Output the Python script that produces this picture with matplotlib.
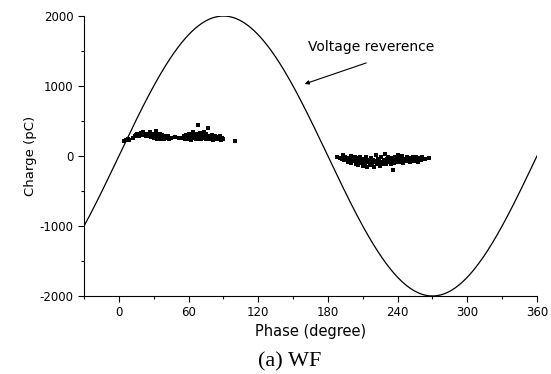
import numpy as np
import matplotlib.pyplot as plt
from matplotlib.ticker import MultipleLocator

plt.rcParams['axes.unicode_minus'] = False
plt.rcParams['font.family'] = 'DejaVu Sans'

# Reference voltage (sine, amplitude in pC scale)
v_amp = 2000
v_phase = np.linspace(-30, 360, 800)

# PD pulses, positive half cycle
c1_phase = [4, 6, 8, 9, 12, 14, 15, 16, 17, 18, 19, 20, 21, 22, 23, 24, 25, 26, 27, 28,
            28, 29, 30, 30, 31, 32, 32, 33, 34, 34, 35, 36, 36, 37, 38, 39, 40, 41, 42, 43,
            45, 48, 52, 55, 56, 57, 58, 58, 59, 60, 60, 61, 62, 62, 63, 64, 64, 65, 66, 66,
            67, 68, 68, 69, 70, 70, 71, 72, 72, 73, 74, 75, 75, 76, 77, 77, 78, 79, 80, 81,
            82, 83, 84, 85, 86, 87, 88, 89, 90, 100]
c1_charge = [215, 230, 245, 225, 260, 280, 300, 320, 290, 310, 330, 300, 350, 320, 290, 310, 280, 300, 340, 310,
             270, 290, 320, 260, 300, 360, 280, 250, 300, 270, 320, 280, 250, 300, 270, 240, 290, 260, 280, 250,
             260, 270, 255, 260, 290, 250, 300, 240, 270, 320, 250, 290, 230, 270, 310, 260, 350, 290, 240, 320,
             270, 440, 300, 250, 280, 330, 240, 300, 260, 350, 280, 240, 310, 260, 400, 290, 250, 270, 300, 230,
             260, 280, 240, 270, 250, 290, 230, 260, 240, 215]

# PD pulses, negative half cycle
c2_phase = [188, 190, 192, 193, 194, 195, 196, 197, 198, 199, 200, 200, 201, 202, 203, 204, 204, 205, 206, 206,
            207, 208, 208, 209, 210, 210, 211, 212, 212, 213, 214, 214, 215, 216, 216, 217, 218, 218, 219, 220,
            220, 221, 222, 222, 223, 224, 224, 225, 226, 226, 227, 228, 228, 229, 230, 230, 231, 232, 232, 233,
            234, 234, 235, 236, 236, 237, 238, 238, 239, 240, 240, 241, 242, 243, 244, 244, 245, 246, 247, 248,
            249, 250, 251, 252, 253, 254, 255, 256, 257, 258, 259, 260, 261, 264, 267]
c2_charge = [-15, -30, -40, 10, -60, -20, -50, -80, -30, -60, 0, -100, -40, -70, -20, -110, -50, -80, -130, -30,
             -60, -100, -10, -70, -140, -40, -90, -60, -120, -20, -80, -160, -50, -100, -130, -30, -70, -110, -50, -90,
             -150, 10, -70, -120, -40, -100, -60, -140, -20, -80, -110, -50, -90, 30, -70, -120, -40, -90, -10, -60,
             -110, -30, -80, -200, -50, -100, -20, -70, -40, -90, 10, -60, -30, -80, -50, 0, -100, -40, -70, -20,
             -60, -30, -90, -50, -10, -70, -40, -20, -60, -90, -30, -50, -10, -40, -30]

fig = plt.figure(figsize=(5.51, 3.74), dpi=100)
ax = fig.add_axes([0.1525, 0.2086, 0.822, 0.7485])

ax.plot(v_phase, v_amp * np.sin(np.radians(v_phase)), color='black', lw=0.9)
ax.scatter(c1_phase, c1_charge, s=6, marker='s', color='black', linewidths=0)
ax.scatter(c2_phase, c2_charge, s=6, marker='s', color='black', linewidths=0)

ax.text(217, 1560, 'Voltage reverence', ha='center', va='center', fontsize=10)
ax.annotate('', xy=(160, 1030), xytext=(213, 1330),
            arrowprops=dict(arrowstyle='-|>', color='black', lw=0.8,
                            mutation_scale=6, shrinkA=0, shrinkB=0))

ax.set_xlim(-30, 360)
ax.set_ylim(-2000, 2000)
ax.set_xticks([0, 60, 120, 180, 240, 300, 360])
ax.set_yticks([-2000, -1000, 0, 1000, 2000])
ax.xaxis.set_minor_locator(MultipleLocator(30))
ax.yaxis.set_minor_locator(MultipleLocator(500))
ax.tick_params(which='major', direction='out', length=4, width=0.8, labelsize=8.5)
ax.tick_params(which='minor', direction='out', length=2.5, width=0.8)

ax.spines['top'].set_visible(False)
ax.spines['right'].set_visible(False)

ax.set_xlabel('Phase (degree)', fontsize=10.5, labelpad=3)
ax.set_ylabel('Charge (pC)', fontsize=9.5, labelpad=2)

fig.text(0.526, 0.032, '(a) WF', ha='center', va='center',
         fontsize=16, family='Liberation Serif')

plt.savefig('out.png', dpi=100)
